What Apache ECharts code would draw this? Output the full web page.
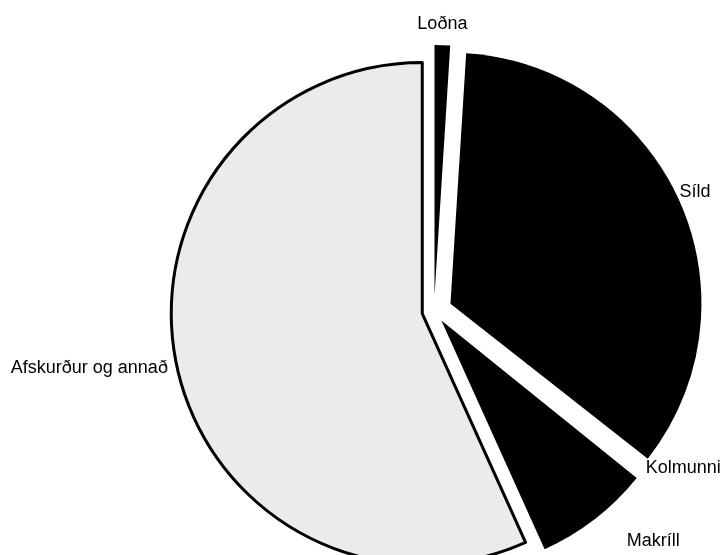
<!DOCTYPE html>
<html><head><meta charset="utf-8">
<script src="https://cdn.jsdelivr.net/npm/echarts@6/dist/echarts.min.js"></script>
<style>html,body{margin:0;padding:0;background:#fff}#c{width:722px;height:555px}</style>
</head><body><div id="c"></div>
<script>
const categories = ['Loðna', 'Síld', 'Kolmunni', 'Makríll', 'Afskurður og annað'];
const values = [1.0, 34.6, 0.2, 7.45, 56.75];
const colors = ['#000000', '#000000', '#ffffff', '#000000', '#ebebeb'];
const borders = [0, 0, 0, 0, 3];
const explode = [15, 18, 12, 12, 12];
const labelDx = [-30, -5, 1, 27, -4];
const labelDy = [-21, -9, -7, 22, 2];

const chart = echarts.init(document.getElementById('c'));
const series = categories.map((cat, i) => ({
  type: 'pie',
  center: [434, 311],
  radius: [0, 251],
  startAngle: 90,
  clockwise: true,
  selectedMode: 'multiple',
  selectedOffset: explode[i],
  avoidLabelOverlap: false,
  silent: true,
  z: 2 + i,
  label: {
    show: false, position: 'outside', color: '#000',
    fontFamily: 'Liberation Sans, Arial, sans-serif', fontSize: 18
  },
  labelLine: { show: false, length: 0, length2: 0 },
  labelLayout: { dx: labelDx[i], dy: labelDy[i] },
  emphasis: { disabled: true },
  data: categories.map((n, j) => {
    const own = j === i;
    const st = own
      ? { color: colors[j], borderColor: '#000', borderWidth: borders[j] }
      : { color: 'rgba(0,0,0,0)', borderWidth: 0 };
    return {
      name: n, value: values[j], selected: own,
      itemStyle: st, select: { itemStyle: st },
      label: { show: own }
    };
  })
}));
chart.setOption({ backgroundColor: '#ffffff', animation: false, series });
</script></body></html>
